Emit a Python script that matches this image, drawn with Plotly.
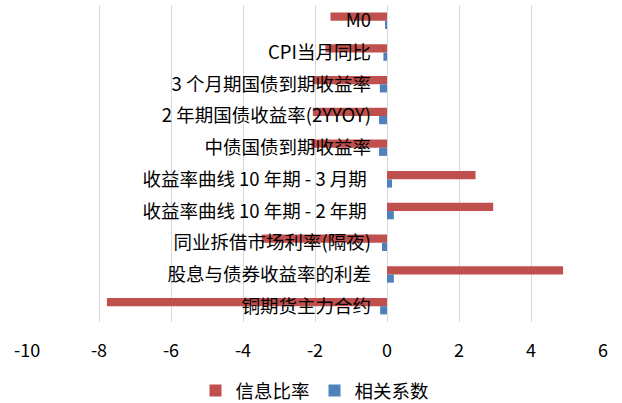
import plotly.graph_objects as go

categories = ["M0", "CPI当月同比", "3 个月期国债到期收益率", "2 年期国债收益率(2YYOY)",
              "中债国债到期收益率", "收益率曲线 10 年期 - 3 月期\u00a0", "收益率曲线 10 年期 - 2 年期\u00a0",
              "同业拆借市场利率(隔夜)", "股息与债券收益率的利差", "铜期货主力合约"]
info_ratio = [-1.57, -1.71, -2.06, -2.06, -2.1, 2.46, 2.95, -3.48, 4.89, -7.78]
corr = [-0.05, -0.1, -0.2, -0.22, -0.22, 0.14, 0.19, -0.14, 0.19, -0.19]
x_ticks = [-10, -8, -6, -4, -2, 0, 2, 4, 6]

font = "Noto Sans CJK SC, Microsoft YaHei, sans-serif"

fig = go.Figure()
fig.add_trace(go.Bar(y=categories, x=info_ratio, orientation="h", name="信息比率",
                     marker=dict(color="#C0504D", line=dict(width=0))))
fig.add_trace(go.Bar(y=categories, x=corr, orientation="h", name="相关系数",
                     marker=dict(color="#4F81BD", line=dict(width=0))))

fig.update_layout(
    width=622, height=403,
    margin=dict(l=27, r=19, t=5, b=81, autoexpand=False),
    paper_bgcolor="white", plot_bgcolor="white",
    barmode="group", bargap=0.48, bargroupgap=0,
    font=dict(family=font, size=18, color="#000000"),
    showlegend=True,
    legend=dict(orientation="h", x=0.5, xanchor="center", y=-0.158, yanchor="top",
                font=dict(size=18.5), itemwidth=30, traceorder="normal",
                tracegroupgap=0),
    xaxis=dict(range=[-10, 6], tickvals=x_ticks, ticktext=[str(v) for v in x_ticks],
               showgrid=True, gridcolor="#D9D9D9", gridwidth=1,
               zeroline=True, zerolinecolor="#D9D9D9", zerolinewidth=1,
               showline=False, ticks="", ticklabelstandoff=16,
               tickfont=dict(size=18), automargin=False),
    yaxis=dict(categoryorder="array", categoryarray=categories, autorange="reversed",
               anchor="free", position=0.625, showgrid=False, zeroline=False,
               showline=False, ticks="", ticklabelstandoff=16, automargin=False,
               tickfont=dict(size=18.5), layer="above traces"),
)

fig.write_html("out.html")
